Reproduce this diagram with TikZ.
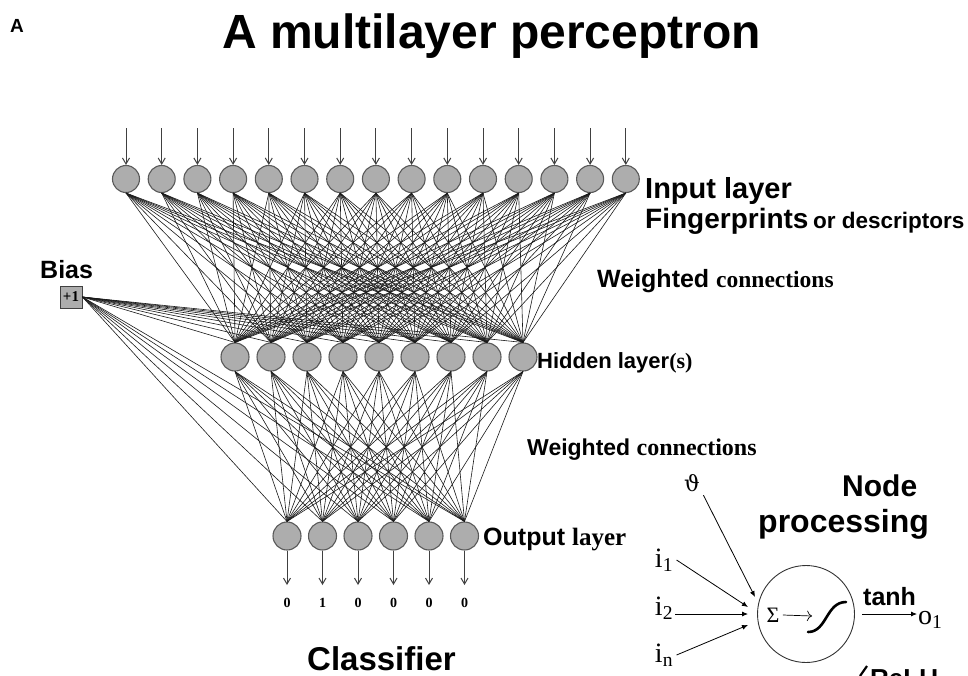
\documentclass[tikz,border=0pt]{standalone}
\usepackage{fontspec}
\setmainfont{Liberation Serif}
\setsansfont{Liberation Sans}
\newfontfamily\greekfont{DejaVu Serif}
\usetikzlibrary{arrows.meta}

\newcommand{\fsz}[1]{\fontsize{#1}{#1}\selectfont}

\begin{document}
\begin{tikzpicture}[
        x=1pt, y=-1pt,
        neuron/.style={circle, draw=black!65, fill=black!32, line width=1.1pt, minimum size=27pt, inner sep=0pt},
        link/.style={draw=black!90, line width=0.6pt},
        feed/.style={draw=black!75, line width=1pt, -{Straight Barb[length=6pt,width=7pt]}},
        pin/.style={draw=black, line width=0.8pt, -{Latex[length=6pt,width=5pt]}},
        lbl/.style={inner sep=0pt, anchor=base west, font=\sffamily\bfseries}
        ]
        \useasboundingbox (0,0) rectangle (968,675);

        % Headings
        \node[lbl, font=\sffamily\bfseries\fsz{19}] (panel) at (10,32) {A};
        \node[lbl, font=\sffamily\bfseries\fsz{48}] (title) at (222,48) {A multilayer perceptron};

        % Input layer
        \foreach \i in {1,...,15} {
            \node[neuron] (in-\i) at ({126+35.7*(\i-1)},179) {};
            \coordinate (feed-\i) at ({126+35.7*(\i-1)},128);
            \draw[feed] (feed-\i) -- (in-\i);
        }

        % Hidden layer
        \foreach \j in {1,...,9}
            \node[neuron, minimum size=28pt] (hid-\j) at ({235+36*(\j-1)},357) {};

        % Output layer
        \foreach \k in {1,...,6}
            \node[neuron, minimum size=28pt] (out-\k) at ({287+35.5*(\k-1)},536) {};

        % Bias unit
        \node[draw=black!75, fill=black!32, line width=0.9pt, minimum size=22pt, inner sep=0pt,
              font=\rmfamily\bfseries\fsz{15}] (bias) at (71,297) {+1};

        % Weighted connections
        \foreach \i in {1,...,15}
            \foreach \j in {1,...,9}
                \draw[link] (in-\i.south) -- (hid-\j.north);
        \foreach \j in {1,...,9}
            \foreach \k in {1,...,6}
                \draw[link] (hid-\j.south) -- (out-\k.north);
        \foreach \j in {1,...,9}
            \draw[link] (bias.east) -- (hid-\j.north);
        \foreach \k in {1,...,6}
            \draw[link] (bias.east) -- (out-\k.north);

        % Classifier outputs
        \foreach \k/\v in {1/0,2/1,3/0,4/0,5/0,6/0} {
            \coordinate (res-\k) at ({287+35.5*(\k-1)},585);
            \draw[feed] (out-\k) -- (res-\k);
            \node[font=\rmfamily\bfseries\fsz{14}] (val-\k) at ({287+35.5*(\k-1)},603) {\v};
        }

        % Layer labels
        \node[lbl, font=\sffamily\bfseries\fsz{29}] (inlbl) at (645,198) {Input layer};
        \node[lbl, font=\sffamily\bfseries\fsz{28}] (fplbl) at (645,228) {Fingerprints\,{\fsz{22.5}or descriptors}};
        \node[lbl, font=\sffamily\bfseries\fsz{25}] (wlbl-1) at (597,287) {Weighted {\rmfamily\fsz{23.5}connections}};
        \node[lbl, font=\sffamily\bfseries\fsz{22}] (hidlbl) at (537,368) {Hidden layer{\rmfamily(s)}};
        \node[lbl, font=\sffamily\bfseries\fsz{23}] (wlbl-2) at (527,455) {Weighted {\rmfamily\fsz{24}connections}};
        \node[lbl, font=\sffamily\bfseries\fsz{25}] (outlbl) at (483,545) {Output {\rmfamily layer}};
        \node[lbl, font=\sffamily\bfseries\fsz{25}] (biaslbl) at (40,278) {Bias};
        \node[lbl, font=\sffamily\bfseries\fsz{33}] (clslbl) at (307,670) {Classifier};
        \node[lbl, font=\sffamily\bfseries\fsz{30}] (nodelbl) at (842,496) {Node};
        \node[lbl, font=\sffamily\bfseries\fsz{32}] (proclbl) at (758,532) {processing};

        % Node processing
        \node[circle, draw=black!80, line width=0.9pt, minimum size=97pt, inner sep=0pt] (proc) at (806,614) {};
        \node[font=\rmfamily\fsz{22}] (sum) at (773,615) {Σ};
        \coordinate (act) at (812,616);
        \draw[-{To[length=5pt]}, line width=0.7pt] (sum.east) -- (act);
        \draw[line width=2.6pt, line cap=round] (808,632) .. controls (827,632) and (826,602) .. (846,602);

        \node[font=\greekfont\fsz{22}] (theta) at (692,483) {ϑ};
        \node[font=\rmfamily\fsz{28}] (i1) at (664,560) {i\textsubscript{1}};
        \node[font=\rmfamily\fsz{28}] (i2) at (664,608) {i\textsubscript{2}};
        \node[font=\rmfamily\fsz{28}] (in) at (664,655) {i\textsubscript{n}};
        \coordinate (tip-t) at (755,597);
        \coordinate (tip-1) at (748,607);
        \coordinate (tip-2) at (748,614);
        \coordinate (tip-n) at (748,625);
        \draw[pin] (theta.south east) -- (tip-t);
        \draw[pin] (i1.east) -- (tip-1);
        \draw[pin] (675,614) -- (tip-2);
        \draw[pin] (in.east) -- (tip-n);

        \node[lbl, font=\sffamily\bfseries\fsz{25}] (tanh) at (863,605) {tanh};
        \coordinate (otip) at (917,614);
        \node[font=\rmfamily\fsz{28}, anchor=west, inner sep=0pt] (o1) at (918,620) {o\textsubscript{1}};
        \draw[pin] (862,614) -- (otip);

        \begin{scope}
            \clip (0,0) rectangle (968,675);
            \draw[line width=2.2pt] (860,676) -- (867,666);
            \node[lbl, font=\sffamily\bfseries\fsz{26}] (relu) at (870,687) {ReLU};
        \end{scope}
\end{tikzpicture}
\end{document}
